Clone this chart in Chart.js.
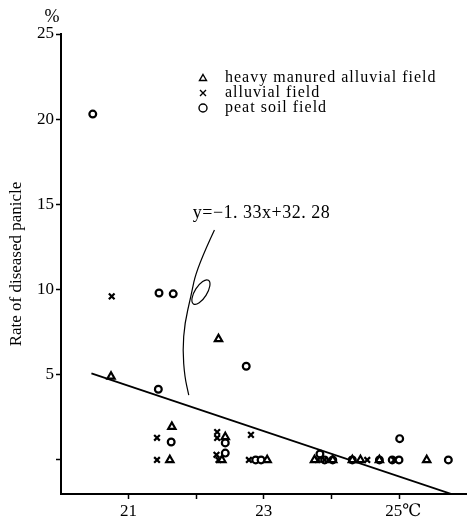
<!DOCTYPE html>
<html>
<head>
<meta charset="utf-8">
<script src="https://cdn.jsdelivr.net/npm/chart.js@4/dist/chart.umd.min.js"></script>
<style>
  html, body { margin: 0; padding: 0; background: #fff; }
  #wrap { width: 473px; height: 522px; }
</style>
</head>
<body>
<div id="wrap"><canvas id="chart"></canvas></div>
<script>
// mean temperature (°C) against rate of diseased panicle (%), one pair of arrays per field type
const heavyTemp = [20.74, 22.33, 21.64, 21.61, 22.43, 22.38, 23.05, 23.75, 24.02, 24.31, 24.43, 24.71, 25.41];
const heavyRate = [4.9, 7.1, 1.95, 0, 1.35, 0, 0, 0, 0, 0, 0, 0, 0];

const alluvialTemp = [20.75, 21.42, 21.42, 22.31, 22.31, 22.30, 22.33, 22.81, 22.78, 23.80, 23.90, 24.30, 24.53, 24.93];
const alluvialRate = [9.6, 1.3, 0, 1.64, 1.29, 0.3, 0, 1.47, 0, 0, 0, 0, 0, 0];

const peatTemp = [20.47, 21.45, 21.66, 21.44, 22.74, 21.63, 22.43, 22.43, 22.88, 22.96, 23.83, 23.90, 24.02, 24.31, 24.71, 24.90, 25.00, 25.01, 25.73];
const peatRate = [20.3, 9.8, 9.75, 4.15, 5.5, 1.05, 1.0, 0.4, 0, 0, 0.35, 0, 0, 0, 0, 0, 0, 1.25, 0];

// fitted line y = -1.33x + 32.28
const slope = -1.33;
const intercept = 32.28;
const fitRange = [20.45, 25.85];

const xTicks = [21, 22, 23, 24, 25];
const xLabels = { 21: '21', 23: '23', 25: '  25℃' };
const yTicks = [0, 5, 10, 15, 20, 25];

const legendNames = ['heavy manured alluvial field', 'alluvial field', 'peat soil field'];
const fitLabel = 'y=−1. 33x+32. 28';

// hand-drawn pointer from the equation to the line (data units)
const pointerPath = [[22.27, 13.5], [22.01, 11.3], [21.92, 9.56], [21.83, 8.04], [21.80, 6.45], [21.83, 4.87], [21.89, 3.81]];
const loopCenter = [22.07, 9.85];

const SERIF = '"Liberation Serif", "DejaVu Serif", serif';

function pairs(xs, ys) {
    const out = [];
    for (let i = 0; i < xs.length; i++) out.push({ x: xs[i], y: ys[i] });
    return out;
}

const marker = {
    borderColor: '#000',
    backgroundColor: '#fff',
    pointBorderWidth: 2.2,
    showLine: false
};

// legend, equation, pointer and unit label
const notes = {
    id: 'notes',
    afterDraw(chart) {
        const { ctx, chartArea, scales: { x, y } } = chart;
        ctx.save();
        ctx.strokeStyle = '#000';
        ctx.fillStyle = '#000';

        // unit above the y axis
        ctx.font = '18px ' + SERIF;
        ctx.textAlign = 'center';
        ctx.textBaseline = 'middle';
        ctx.fillText('%', chartArea.left - 9, chartArea.top - 17);

        // legend
        const lx = chartArea.left + 142;
        const ly = chartArea.top + 44;
        const step = 15;
        ctx.lineWidth = 1.4;
        for (let i = 0; i < legendNames.length; i++) {
            const cy = ly + i * step;
            ctx.beginPath();
            if (i === 0) {
                ctx.moveTo(lx, cy - 3.5);
                ctx.lineTo(lx + 3.5, cy + 2.5);
                ctx.lineTo(lx - 3.5, cy + 2.5);
                ctx.closePath();
            } else if (i === 1) {
                ctx.moveTo(lx - 3, cy - 3); ctx.lineTo(lx + 3, cy + 3);
                ctx.moveTo(lx + 3, cy - 3); ctx.lineTo(lx - 3, cy + 3);
            } else {
                ctx.arc(lx, cy, 4, 0, Math.PI * 2);
            }
            ctx.stroke();
        }
        ctx.font = '16px ' + SERIF;
        ctx.letterSpacing = '1px';
        ctx.textAlign = 'left';
        for (let i = 0; i < legendNames.length; i++) {
            ctx.fillText(legendNames[i], lx + 22, ly + i * step);
        }

        // equation
        ctx.font = '18px ' + SERIF;
        ctx.letterSpacing = '0.5px';
        ctx.fillText(fitLabel, x.getPixelForValue(21.95), y.getPixelForValue(14.5));
        ctx.letterSpacing = '0px';

        // pointer curve
        const pts = pointerPath.map(p => [x.getPixelForValue(p[0]), y.getPixelForValue(p[1])]);
        ctx.lineWidth = 1.2;
        ctx.beginPath();
        ctx.moveTo(pts[0][0], pts[0][1]);
        for (let i = 1; i < pts.length - 1; i++) {
            const mx = (pts[i][0] + pts[i + 1][0]) / 2;
            const my = (pts[i][1] + pts[i + 1][1]) / 2;
            ctx.quadraticCurveTo(pts[i][0], pts[i][1], mx, my);
        }
        const last = pts[pts.length - 1];
        ctx.lineTo(last[0], last[1]);
        ctx.stroke();

        // small loop on the pointer
        ctx.beginPath();
        ctx.ellipse(x.getPixelForValue(loopCenter[0]), y.getPixelForValue(loopCenter[1]), 14, 6, -Math.PI * 0.32, 0, Math.PI * 2);
        ctx.stroke();

        ctx.restore();
    }
};

new Chart(document.getElementById('chart'), {
    type: 'scatter',
    data: {
        datasets: [
            Object.assign({ label: legendNames[0], data: pairs(heavyTemp, heavyRate), pointStyle: 'triangle', pointRadius: 4.2 }, marker),
            Object.assign({ label: legendNames[1], data: pairs(alluvialTemp, alluvialRate), pointStyle: 'crossRot', pointRadius: 4 }, marker),
            Object.assign({ label: legendNames[2], data: pairs(peatTemp, peatRate), pointStyle: 'circle', pointRadius: 3.4 }, marker),
            {
                type: 'line',
                label: 'fit',
                data: fitRange.map(t => ({ x: t, y: slope * t + intercept })),
                borderColor: '#000',
                borderWidth: 1.8,
                pointRadius: 0,
                fill: false
            }
        ]
    },
    options: {
        responsive: true,
        maintainAspectRatio: false,
        animation: false,
        devicePixelRatio: 1,
        layout: { padding: { top: 34, right: 2, left: 0, bottom: 0 } },
        plugins: {
            legend: { display: false },
            tooltip: { enabled: false }
        },
        scales: {
            x: {
                type: 'linear',
                min: 20,
                max: 26,
                afterBuildTicks: s => { s.ticks = xTicks.map(v => ({ value: v })); },
                afterFit: s => { s.height = 28; },
                border: { display: true, color: '#000', width: 2 },
                grid: { display: true, drawOnChartArea: false, color: '#000', tickLength: 5, tickWidth: 1.5 },
                ticks: {
                    color: '#000',
                    padding: 2,
                    maxRotation: 0,
                    autoSkip: false,
                    font: { family: SERIF, size: 17 },
                    callback: v => xLabels[v] || ''
                }
            },
            y: {
                type: 'linear',
                min: -2,
                max: 25,
                afterBuildTicks: s => { s.ticks = yTicks.map(v => ({ value: v })); },
                afterFit: s => { s.width = 61; },
                border: { display: true, color: '#000', width: 2 },
                grid: { display: true, drawOnChartArea: false, color: '#000', tickLength: 5, tickWidth: 1.5 },
                title: {
                    display: true,
                    text: 'Rate of diseased panicle',
                    color: '#000',
                    font: { family: SERIF, size: 17 },
                    padding: { top: 6, bottom: 0 }
                },
                ticks: {
                    color: '#000',
                    padding: 2,
                    font: { family: SERIF, size: 17 },
                    callback: v => (v === 0 ? '' : String(v))
                }
            }
        }
    },
    plugins: [notes]
});
</script>
</body>
</html>
